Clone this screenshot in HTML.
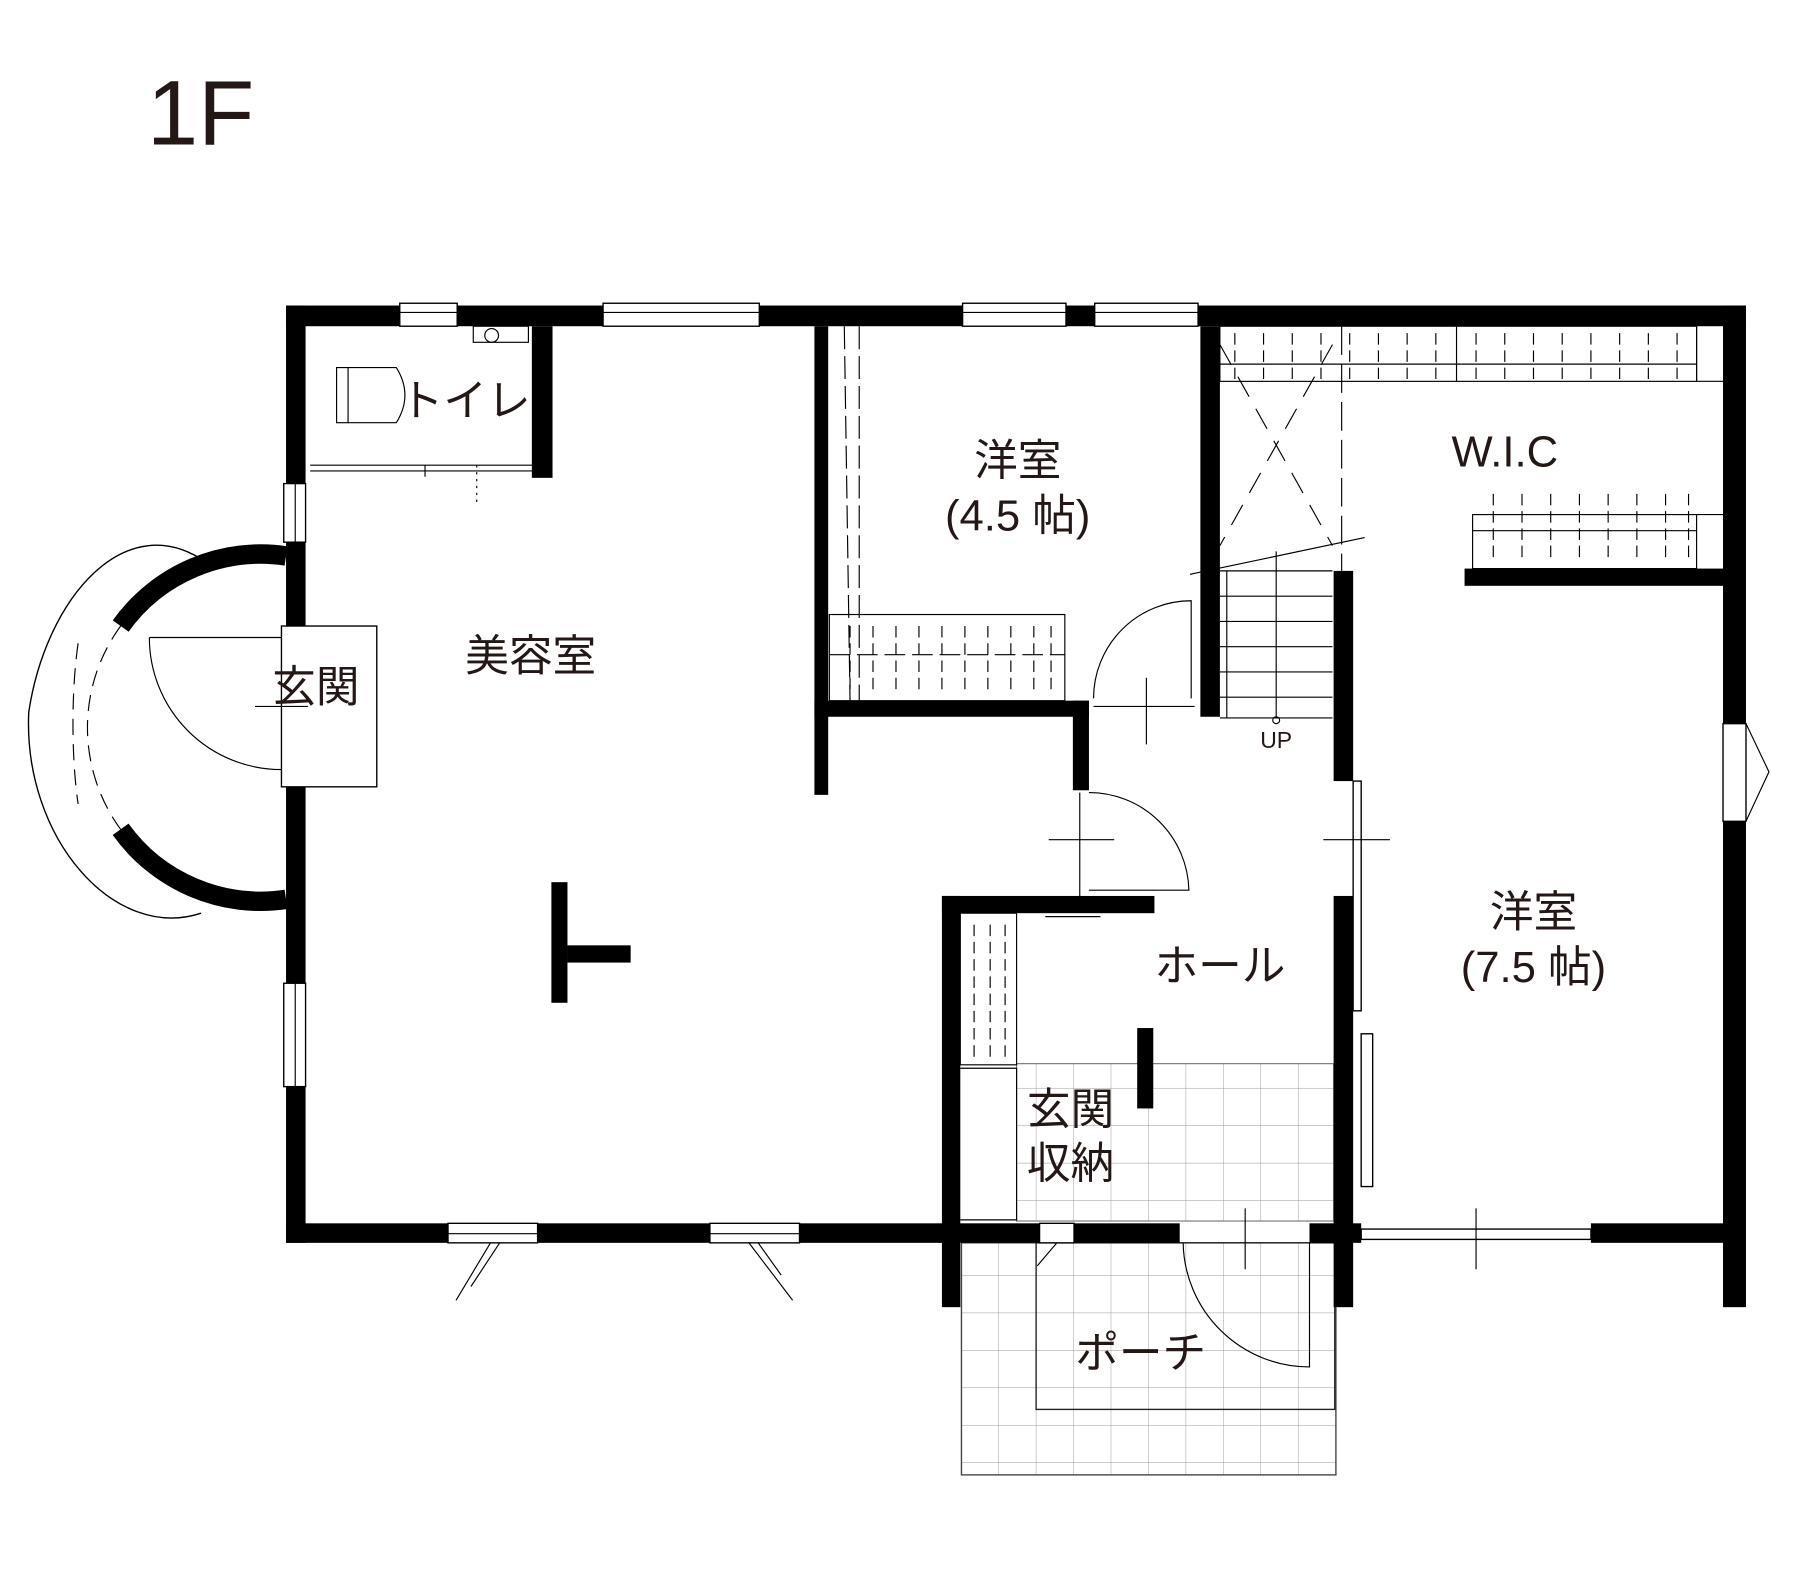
<!DOCTYPE html>
<html><head><meta charset="utf-8"><style>
html,body{margin:0;padding:0;background:#fff}
svg{display:block}
text{font-family:"Liberation Sans","Noto Sans CJK JP",sans-serif;fill:#231815}
</style></head><body>
<svg width="1800" height="1584" viewBox="0 0 1567 1379" xmlns="http://www.w3.org/2000/svg">
<defs>
<pattern id="tile" x="837" y="915" width="32.6" height="32.6" patternUnits="userSpaceOnUse">
<path d="M32.6 0V32.6H0" fill="none" stroke="#999" stroke-width="0.8"/>
</pattern>
</defs>
<text x="128" y="126" font-size="80" font-weight="normal">1F</text>

<rect x="885" y="926" width="276" height="137" fill="url(#tile)" stroke="#777" stroke-width="1"/>
<rect x="837" y="1082" width="326" height="202" fill="url(#tile)" stroke="#444" stroke-width="1.2"/>
<rect x="902" y="1082" width="260" height="145" fill="none" stroke="#222" stroke-width="1.2"/>

<g fill="#000">
<rect x="249" y="266" width="99" height="18"/>
<rect x="398" y="266" width="127" height="18"/>
<rect x="661" y="266" width="177" height="18"/>
<rect x="928" y="266" width="25" height="18"/>
<rect x="1043" y="266" width="477" height="18"/>
<rect x="249" y="266" width="17" height="155"/>
<rect x="249" y="472" width="17" height="73"/>
<rect x="249" y="675" width="17" height="181"/>
<rect x="249" y="946" width="17" height="136"/>
<rect x="249" y="1065" width="141" height="17"/>
<rect x="468" y="1065" width="150" height="17"/>
<rect x="696" y="1065" width="209" height="17"/>
<rect x="935" y="1065" width="92" height="17"/>
<rect x="1140" y="1065" width="45" height="17"/>
<rect x="1385" y="1065" width="120" height="17"/>
<rect x="1500" y="266" width="20" height="364"/>
<rect x="1500" y="715" width="20" height="423"/>
<rect x="463" y="284" width="18" height="132"/>
<rect x="709" y="284" width="12" height="408"/>
<rect x="709" y="610" width="239" height="14"/>
<rect x="934" y="610" width="14" height="78"/>
<rect x="1045" y="284" width="17" height="340"/>
<rect x="1161" y="497" width="17" height="183"/>
<rect x="1161" y="780" width="17" height="358"/>
<rect x="820" y="780" width="185" height="15"/>
<rect x="820" y="780" width="16" height="358"/>
<rect x="990" y="895" width="14" height="70"/>
<rect x="1275" y="495" width="230" height="15"/>
<rect x="480" y="768" width="14" height="105"/>
<rect x="494" y="823" width="55" height="15"/>
</g>

<g fill="#fff" stroke="#000" stroke-width="1.2">
<rect x="348" y="264" width="50" height="20"/>
<rect x="525" y="264" width="136" height="20"/>
<rect x="838" y="264" width="90" height="20"/>
<rect x="953" y="264" width="90" height="20"/>
<rect x="247" y="421" width="19" height="51"/>
<rect x="247" y="856" width="19" height="90"/>
<rect x="390" y="1065" width="78" height="17"/>
<rect x="618" y="1065" width="78" height="17"/>
<rect x="905" y="1065" width="30" height="17"/>
<rect x="1185" y="1070" width="200" height="9"/>
<rect x="1178" y="680" width="7" height="200"/>
<rect x="1185" y="900" width="10" height="133"/>
<rect x="245" y="545" width="83" height="140"/>
<rect x="1500" y="630" width="20" height="85"/>
</g>
<g stroke="#000" stroke-width="1" fill="none">
<path d="M348 272H398M525 272H661M838 272H928M953 272H1043M390 1074H468M618 1074H696M257 421V472M257 856V946"/>
<path d="M1520 630L1540 672L1520 715"/>
<path d="M427 1082L397 1132M435 1082L410 1120M652 1082L690 1132M660 1082L680 1110M920 1082L903 1102"/>
<path d="M270 405H465M270 410H465M370 405V415"/>
<rect x="293" y="320" width="10" height="48"/>
<path d="M303 320H345Q360 344 345 368H303"/>
<rect x="412" y="284" width="48" height="14"/>
<circle cx="428" cy="292" r="6"/>
<path d="M415 405V440" stroke-dasharray="2 4"/>
<path d="M130 555H245"/>
<path d="M130 555A115 115 0 0 0 245 670"/>
<path d="M222 615H268"/>
<path d="M249 484A150 150 0 0 0 105 545" stroke-width="17"/>
<path d="M105 722A150 150 0 0 0 249 783" stroke-width="17"/>
<path d="M105 545A150 150 0 0 0 105 722" stroke-dasharray="14 8"/>
<path d="M180 490C110 440 40 520 25 620C20 730 100 820 175 795" stroke-width="1.2"/>
<path d="M68 560C62 600 62 660 68 700" stroke-dasharray="14 8"/>
<path d="M952 608A85 85 0 0 1 1037 523V608"/>
<path d="M952 615H1040M998 590V648"/>
<path d="M948 690A87 87 0 0 1 1035 775H948"/>
<path d="M940 690V780M913 731H970"/>
<path d="M1030 1082A110 110 0 0 0 1140 1190V1082"/>
<path d="M1084 1052V1105M1285 1052V1105M1152 731H1210"/>
<path d="M1062 497H1160M1062 519H1160M1062 541H1160M1062 563H1160M1062 585H1160M1062 607H1160M1062 625H1160"/>
<path d="M1068 497V625M1111 480V625"/>
<circle cx="1111" cy="627" r="3"/>
<path d="M1036 500L1188 468"/>
<path d="M1062 300L1160 475M1160 300L1062 475" stroke-dasharray="20 12"/>
<path d="M1168 284V497" stroke-dasharray="25 8"/>
<rect x="722" y="535" width="205" height="75"/>
<path d="M722 570H927" stroke-dasharray="18 6"/>
<path d="M735 284L740 610M748 284L748 610" stroke-dasharray="20 6"/>
<rect x="1062" y="284" width="415" height="48"/>
<path d="M1062 317H1477M1268 284V332"/>
<path d="M1477 284V332H1500"/>
<rect x="1282" y="448" width="195" height="47"/>
<path d="M1282 462H1477"/>
<path d="M1477 448H1500"/>
<rect x="836" y="795" width="49" height="132"/>
<path d="M836 930H885V1062H836"/>
<path d="M910 798H958"/>
<g stroke-dasharray="10 5">
<path d="M740 545V600M760 545V600M780 545V600M800 545V600M820 545V600M840 545V600M860 545V600M880 545V600M900 545V600M915 545V600"/>
<path d="M1075 290V330M1100 290V330M1125 290V330M1150 290V330M1175 290V330M1200 290V330M1225 290V330M1250 290V330M1285 290V330M1310 290V330M1335 290V330M1360 290V330M1385 290V330M1410 290V330M1435 290V330M1460 290V330"/>
<path d="M1300 430V490M1325 430V490M1350 430V490M1375 430V490M1400 430V490M1425 430V490M1450 430V490M1470 430V490"/>
<path d="M848 805V920M862 805V920M875 805V920"/>
</g>
</g>

<g font-size="38" text-anchor="middle">
<text x="275" y="611">玄関</text>
<text x="462" y="584">美容室</text>
<text x="405" y="362">トイレ</text>
<text x="886" y="414">洋室</text>
<text x="886" y="462">(4.5 帖)</text>
<text x="1310" y="406">W.I.C</text>
<text x="1335" y="807">洋室</text>
<text x="1335" y="855">(7.5 帖)</text>
<text x="1062" y="854">ホール</text>
<text x="932" y="979">玄関</text>
<text x="932" y="1026">収納</text>
<text x="993" y="1191">ポーチ</text>
</g>
<text x="1111" y="651" font-size="20" text-anchor="middle">UP</text>
</svg>
</body></html>
